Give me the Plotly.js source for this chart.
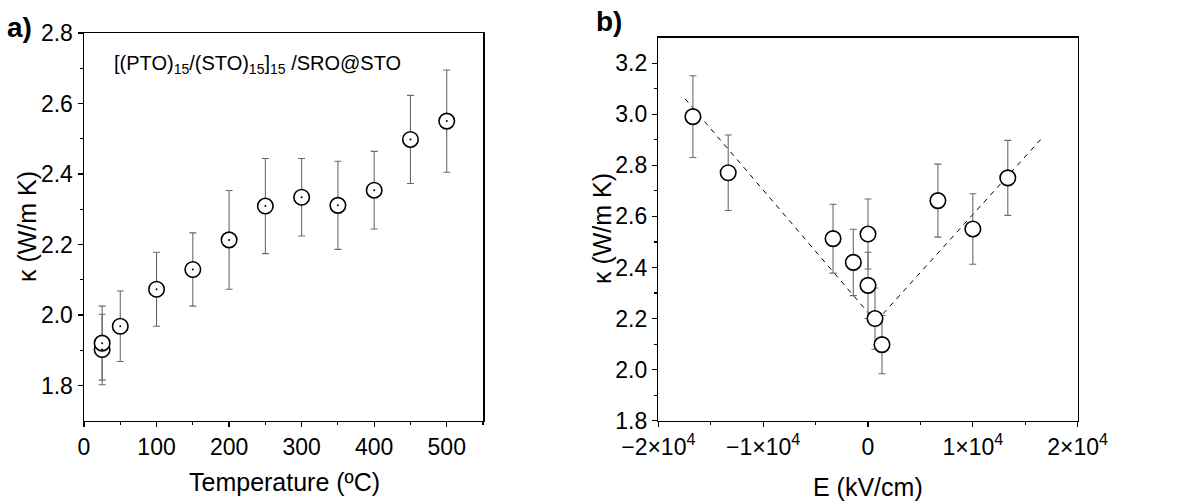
<!DOCTYPE html>
<html>
<head>
<meta charset="utf-8">
<script src="https://cdn.plot.ly/plotly-3.0.1.min.js"></script>
<style>html,body{margin:0;padding:0;background:#fff;}#chart{width:1182px;height:504px;}</style>
</head>
<body>
<div id="chart"></div>
<script>
// Panel a: thermal conductivity vs temperature
const tempC = [25, 25, 50, 100, 150, 200, 250, 300, 350, 400, 450, 500];
const kappaT = [1.902, 1.92, 1.968, 2.073, 2.129, 2.213, 2.309, 2.334, 2.311, 2.354, 2.498, 2.55];
const kappaTErr = [0.10, 0.105, 0.10, 0.105, 0.104, 0.14, 0.135, 0.11, 0.125, 0.11, 0.125, 0.145];

// Panel b: thermal conductivity vs electric field
const fieldE = [-16700, -13333, -3333, -1400, 0, 0, 667, 1333, 6667, 10000, 13333];
const kappaE = [2.991, 2.771, 2.513, 2.42, 2.531, 2.33, 2.2, 2.098, 2.662, 2.551, 2.751];
const kappaEErr = [0.16, 0.148, 0.135, 0.13, 0.137, 0.13, 0.12, 0.114, 0.143, 0.138, 0.147];

// dashed guide lines in panel b
const fitLeftE = [-17450, 700];
const fitLeftK = [3.061, 2.19];
const fitRightE = [800, 16550];
const fitRightK = [2.19, 2.905];

// tick labels
const xTicksA = [0, 100, 200, 300, 400, 500];
const yTicksA = [1.8, 2.0, 2.2, 2.4, 2.6, 2.8];
const yTickTextA = ['1.8', '2.0', '2.2', '2.4', '2.6', '2.8'];
const xTicksB = [-20000, -10000, 0, 10000, 20000];
const xTickTextB = ['\u22122\u00d710<sup>4</sup>', '\u22121\u00d710<sup>4</sup>', '0', '1\u00d710<sup>4</sup>', '2\u00d710<sup>4</sup>'];
const yTicksB = [1.8, 2.0, 2.2, 2.4, 2.6, 2.8, 3.0, 3.2];
const yTickTextB = ['1.8', '2.0', '2.2', '2.4', '2.6', '2.8', '3.0', '3.2'];
// minor tick positions
const xMinorA = [50, 150, 250, 350, 450, 550];
const yMinorA = [1.9, 2.1, 2.3, 2.5, 2.7];
const xMinorB = [-15000, -5000, 5000, 15000];
const yMinorB = [1.9, 2.1, 2.3, 2.5, 2.7, 2.9, 3.1];

const FONT = 'Arial';
const TICK_SIZE = 23;
const errStyle = (arr) => ({type: 'data', array: arr, visible: true, color: '#6a6a6a', thickness: 1.1, width: 3.5});
const circ = {symbol: 'circle', size: 15.5, color: '#ffffff', line: {color: '#000000', width: 1.6}};

const traces = [
  {x: tempC, y: kappaT, xaxis: 'x', yaxis: 'y', mode: 'markers', type: 'scatter', marker: circ, error_y: errStyle(kappaTErr)},
  {x: tempC, y: kappaT, xaxis: 'x', yaxis: 'y', mode: 'markers', type: 'scatter', marker: {symbol: 'circle', size: 2, color: '#000'}},
  {x: fitLeftE, y: fitLeftK, xaxis: 'x2', yaxis: 'y2', mode: 'lines', type: 'scatter', line: {color: '#000', width: 1, dash: '5px,5px'}},
  {x: fitRightE, y: fitRightK, xaxis: 'x2', yaxis: 'y2', mode: 'lines', type: 'scatter', line: {color: '#000', width: 1, dash: '5px,5px'}},
  {x: fieldE, y: kappaE, xaxis: 'x2', yaxis: 'y2', mode: 'markers', type: 'scatter', marker: circ, error_y: errStyle(kappaEErr)},
  // empty carriers so the minor-tick overlay axes are drawn
  {x: [], y: [], xaxis: 'x3', yaxis: 'y', type: 'scatter', mode: 'markers'},
  {x: [], y: [], xaxis: 'x', yaxis: 'y3', type: 'scatter', mode: 'markers'},
  {x: [], y: [], xaxis: 'x4', yaxis: 'y2', type: 'scatter', mode: 'markers'},
  {x: [], y: [], xaxis: 'x2', yaxis: 'y4', type: 'scatter', mode: 'markers'}
];

function ax(extra) {
  return Object.assign({
    showline: true, linecolor: '#000', linewidth: 1.5, mirror: true,
    ticks: 'outside', ticklen: 5, tickwidth: 1.3, tickcolor: '#000',
    showgrid: false, zeroline: false,
    tickfont: {family: FONT, size: TICK_SIZE, color: '#000'}
  }, extra);
}
function minorAx(extra) {
  return Object.assign({
    showline: false, showticklabels: false, showgrid: false, zeroline: false,
    ticks: 'outside', ticklen: 3, tickwidth: 1.1, tickcolor: '#000', tickmode: 'array'
  }, extra);
}

const rangeXA = [0, 550], rangeYA = [1.7, 2.8], rangeXB = [-20000, 20000], rangeYB = [1.8, 3.3];

const layout = {
  width: 1182, height: 504,
  margin: {l: 0, r: 0, t: 0, b: 0},
  showlegend: false,
  font: {family: FONT, color: '#000', size: TICK_SIZE},
  xaxis: ax({domain: [84/1182, 483/1182], range: rangeXA, tickmode: 'array', tickvals: xTicksA, anchor: 'y'}),
  yaxis: ax({domain: [1 - 420.7/504, 1 - 33/504], range: rangeYA, tickmode: 'array', tickvals: yTicksA, ticktext: yTickTextA, anchor: 'x'}),
  xaxis2: ax({domain: [658.3/1182, 1077.7/1182], range: rangeXB, tickmode: 'array', tickvals: xTicksB, ticktext: xTickTextB, anchor: 'y2'}),
  yaxis2: ax({domain: [1 - 420.7/504, 1 - 37.7/504], range: rangeYB, tickmode: 'array', tickvals: yTicksB, ticktext: yTickTextB, anchor: 'x2'}),
  xaxis3: minorAx({overlaying: 'x', anchor: 'y', side: 'bottom', range: rangeXA, tickvals: xMinorA}),
  yaxis3: minorAx({overlaying: 'y', anchor: 'x', side: 'left', range: rangeYA, tickvals: yMinorA}),
  xaxis4: minorAx({overlaying: 'x2', anchor: 'y2', side: 'bottom', range: rangeXB, tickvals: xMinorB}),
  yaxis4: minorAx({overlaying: 'y2', anchor: 'x2', side: 'left', range: rangeYB, tickvals: yMinorB}),
  annotations: [
    {text: '<b>a)</b>', xref: 'paper', yref: 'paper', x: 5/1182, y: 1 - 27/504, xanchor: 'left', yanchor: 'middle', showarrow: false, font: {family: FONT, size: 28}},
    {text: '<b>b)</b>', xref: 'paper', yref: 'paper', x: 594/1182, y: 1 - 22/504, xanchor: 'left', yanchor: 'middle', showarrow: false, font: {family: FONT, size: 28}},
    {text: '[(PTO)<sub>15</sub>/(STO)<sub>15</sub>]<sub>15</sub> /SRO@STO', xref: 'paper', yref: 'paper', x: 112/1182, y: 1 - 64/504, xanchor: 'left', yanchor: 'middle', showarrow: false, font: {family: FONT, size: 20}},
    {text: '\u03ba (W/m K)', xref: 'paper', yref: 'paper', x: 27/1182, y: 1 - 227/504, xanchor: 'center', yanchor: 'middle', textangle: -90, showarrow: false, font: {family: FONT, size: 25}},
    {text: '\u03ba (W/m K)', xref: 'paper', yref: 'paper', x: 602/1182, y: 1 - 229/504, xanchor: 'center', yanchor: 'middle', textangle: -90, showarrow: false, font: {family: FONT, size: 25}},
    {text: 'Temperature (\u00baC)', xref: 'paper', yref: 'paper', x: 284/1182, y: 1 - 482/504, xanchor: 'center', yanchor: 'middle', showarrow: false, font: {family: FONT, size: 25}},
    {text: 'E (kV/cm)', xref: 'paper', yref: 'paper', x: 868/1182, y: 1 - 487/504, xanchor: 'center', yanchor: 'middle', showarrow: false, font: {family: FONT, size: 25}}
  ]
};

Plotly.newPlot('chart', traces, layout, {displayModeBar: false, staticPlot: true});
</script>
</body>
</html>
